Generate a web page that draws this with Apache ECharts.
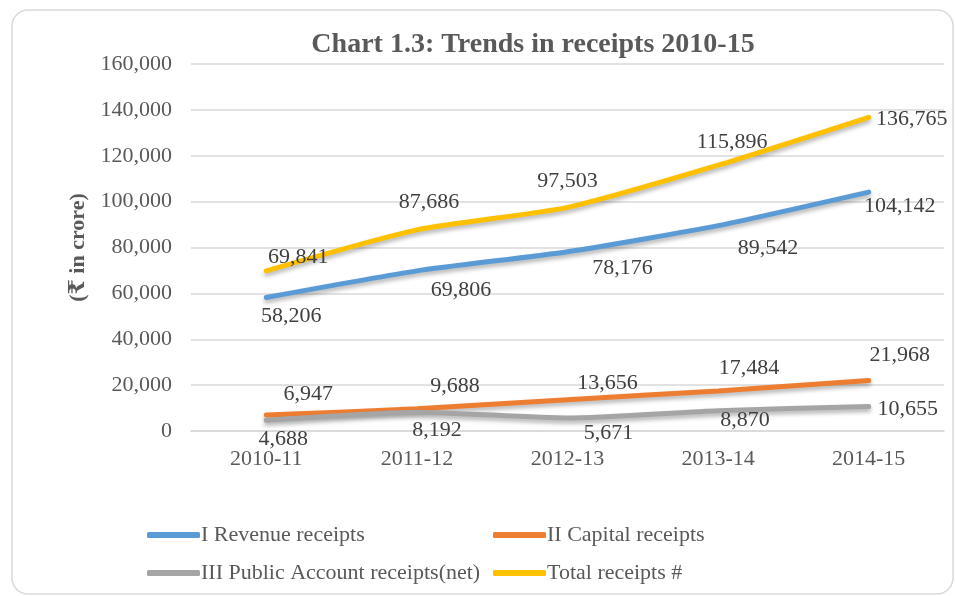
<!DOCTYPE html>
<html>
<head>
<meta charset="utf-8">
<script src="https://cdn.jsdelivr.net/npm/echarts@6/dist/echarts.min.js"></script>
<style>
  html, body { margin: 0; padding: 0; background: #fff; }
  #chart { width: 955px; height: 596px; }
</style>
</head>
<body>
<div id="chart"></div>
<script>
var categories = ['2010-11', '2011-12', '2012-13', '2013-14', '2014-15'];
var revenueReceipts = [58206, 69806, 78176, 89542, 104142];
var capitalReceipts = [6947, 9688, 13656, 17484, 21968];
var publicAccountReceipts = [4688, 8192, 5671, 8870, 10655];
var totalReceipts = [69841, 87686, 97503, 115896, 136765];
var seriesNames = ['I Revenue receipts', 'II Capital receipts', 'III Public Account receipts(net)', 'Total receipts #'];

// label offsets from the point (px), mimicking the excel label placement
var offsets = {
  revenue: [[25, 19], [44, 19], [55, 17], [50, 23], [31, 14]],
  capital: [[42, -21], [38, -23], [40, -16], [31, -23], [31, -25]],
  publicAcc: [[17, 19], [20, 18], [41, 15], [27, 10], [39, 3]],
  total: [[32, -14], [12, -28], [0, -26], [14, -23], [43, 2]]
};

var serif = '"Liberation Serif", "Times New Roman", "DejaVu Serif", serif';

function fmt(v) {
  return v.toLocaleString('en-US');
}

function makeData(values, offs) {
  return values.map(function (v, i) {
    return { value: v, label: { offset: offs[i] } };
  });
}

function makeSeries(name, values, offs, color) {
  return {
    name: name,
    type: 'line',
    smooth: 0.2,
    symbol: 'circle',
    symbolSize: 1,
    data: makeData(values, offs),
    lineStyle: {
      width: 5,
      color: color,
      cap: 'round',
      shadowColor: 'rgba(0,0,0,0.3)',
      shadowBlur: 4,
      shadowOffsetY: 3
    },
    itemStyle: { color: color },
    label: {
      show: true,
      position: 'inside',
      fontFamily: serif,
      fontSize: 22,
      color: '#404040',
      formatter: function (p) { return fmt(p.value); }
    },
    emphasis: { disabled: true }
  };
}

function makeLegend(name, left, top) {
  return {
    data: [name],
    left: left,
    top: top,
    icon: 'roundRect',
    itemWidth: 53,
    itemHeight: 6,
    itemGap: 0,
    textStyle: { fontFamily: serif, fontSize: 22, color: '#595959', padding: [0, 0, 0, -4] }
  };
}

var chart = echarts.init(document.getElementById('chart'));
chart.setOption({
  animation: false,
  color: ['#5B9BD5', '#ED7D31', '#A5A5A5', '#FFC000'],
  title: {
    text: 'Chart 1.3: Trends in receipts 2010-15',
    left: 528,
    textAlign: 'center',
    top: 26,
    textStyle: { fontFamily: serif, fontSize: 28, fontWeight: 'bold', color: '#595959' }
  },
  graphic: [{
    type: 'rect',
    shape: { x: 12, y: 10, width: 941, height: 584, r: 16 },
    style: { fill: 'none', stroke: '#d9d9d9', lineWidth: 1.5 },
    z: -1
  }],
  legend: [
    makeLegend(seriesNames[0], 142, 519),
    makeLegend(seriesNames[1], 488, 519),
    makeLegend(seriesNames[2], 142, 557),
    makeLegend(seriesNames[3], 488, 557)
  ],
  grid: { left: 191, right: 11, top: 64, bottom: 165 },
  xAxis: {
    type: 'category',
    data: categories,
    axisLine: { lineStyle: { color: '#d9d9d9', width: 1.5 } },
    axisTick: { show: false },
    axisLabel: { fontFamily: serif, fontSize: 22, color: '#595959', margin: 17 }
  },
  yAxis: {
    type: 'value',
    min: 0,
    max: 160000,
    interval: 20000,
    name: '(₹ in crore)',
    nameLocation: 'middle',
    nameGap: 100,
    nameRotate: 90,
    nameTextStyle: { fontFamily: serif, fontSize: 22, fontWeight: 'bold', color: '#595959' },
    axisLine: { show: false },
    axisTick: { show: false },
    splitLine: { lineStyle: { color: '#d9d9d9', width: 1.5 } },
    axisLabel: { fontFamily: serif, fontSize: 22, color: '#595959', margin: 19, formatter: fmt }
  },
  series: [
    makeSeries(seriesNames[0], revenueReceipts, offsets.revenue, '#5B9BD5'),
    makeSeries(seriesNames[1], capitalReceipts, offsets.capital, '#ED7D31'),
    makeSeries(seriesNames[2], publicAccountReceipts, offsets.publicAcc, '#A5A5A5'),
    makeSeries(seriesNames[3], totalReceipts, offsets.total, '#FFC000')
  ]
});
</script>
</body>
</html>
